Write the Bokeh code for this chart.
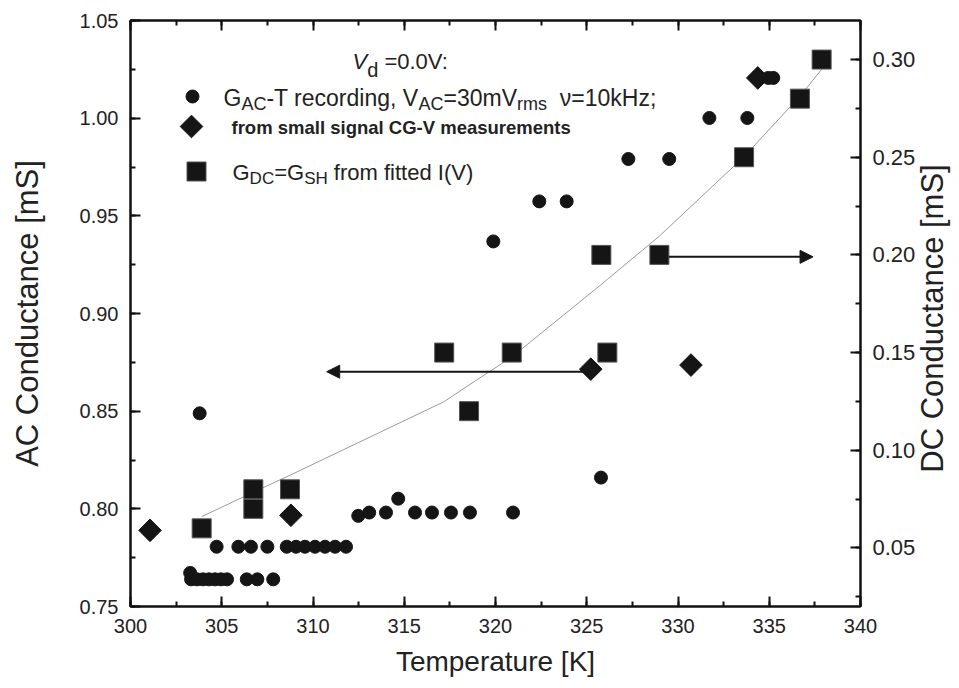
import numpy as np
from bokeh.plotting import figure
from bokeh.models import (Range1d, LinearAxis, Label, Arrow, NormalHead,
                          FixedTicker, PrintfTickFormatter)
from bokeh.embed import file_html
from bokeh.resources import INLINE

# ---------------- data ----------------
# G_AC - T recording (left axis, mS)
ac_T = [303.27, 303.32, 303.64, 303.97, 304.30, 304.63, 304.96, 305.29,
        306.37, 306.95, 307.82,
        304.72, 305.91, 306.60, 307.50, 308.56, 309.07, 309.56, 310.11,
        310.66, 311.21, 311.81,
        312.48, 313.08, 314.00, 314.67, 315.59, 316.52, 317.56, 318.60, 320.96,
        303.79, 319.88, 322.40, 323.90, 325.78, 327.28, 329.52, 331.72,
        333.80, 334.95, 335.22]
ac_G = [0.7672, 0.7639, 0.7639, 0.7639, 0.7639, 0.7639, 0.7639, 0.7639,
        0.7639, 0.7639, 0.7639,
        0.7806, 0.7806, 0.7806, 0.7806, 0.7806, 0.7806, 0.7806, 0.7806,
        0.7806, 0.7806, 0.7806,
        0.7964, 0.7981, 0.7981, 0.8052, 0.7981, 0.7981, 0.7981, 0.7981, 0.7981,
        0.8489, 0.9369, 0.9574, 0.9574, 0.8160, 0.9791, 0.9791, 1.0001,
        1.0001, 1.0206, 1.0206]

# small signal CG-V measurements (left axis, mS)
cv_T = [301.07, 308.79, 325.22, 330.71, 334.37]
cv_G = [0.7890, 0.7967, 0.8715, 0.8736, 1.0206]

# G_DC = G_SH from fitted I(V) (right axis, mS)
dc_T = [303.90, 306.73, 306.73, 308.74, 317.19, 318.55, 320.89, 325.80,
        326.13, 328.98, 333.62, 336.68, 337.87]
dc_G = [0.06, 0.07, 0.08, 0.08, 0.15, 0.12, 0.15, 0.20,
        0.15, 0.20, 0.25, 0.28, 0.30]

# fitted curve (right axis, mS)
fit_T = [303.90, 306.73, 308.74, 317.19, 318.55, 320.89, 325.80, 326.13,
         328.98, 333.62, 336.68, 337.87]
fit_G = [0.0660, 0.0785, 0.0872, 0.1249, 0.1334, 0.1477, 0.1849, 0.1875,
         0.2096, 0.2503, 0.2812, 0.2950]

x_ticks = [300, 305, 310, 315, 320, 325, 330, 335, 340]
ac_ticks = [0.75, 0.80, 0.85, 0.90, 0.95, 1.00, 1.05]
dc_ticks = [0.05, 0.10, 0.15, 0.20, 0.25, 0.30]

# ---------------- figure ----------------
W, H = 959, 688
FL, FR, FT, FB = 130, 860, 20, 606   # frame in pixels
X0, X1 = 300, 340
Y0, Y1 = 0.75, 1.05
D0, D1 = 0.02, 0.32

FONT = "Liberation Sans"
INK = "#151515"

p = figure(width=W, height=H, x_range=Range1d(X0, X1), y_range=Range1d(Y0, Y1),
           output_backend="svg", toolbar_location=None,
           min_border_left=FL, min_border_right=W - FR,
           min_border_top=FT, min_border_bottom=H - FB)
p.extra_y_ranges = {"dc": Range1d(D0, D1)}
p.xgrid.visible = False
p.ygrid.visible = False
p.outline_line_color = "#111111"
p.outline_line_width = 2
p.background_fill_color = "white"
p.border_fill_color = "white"


def style_axis(ax, ticks, fmt, size, label_size=28, show_labels=True):
    step = ticks[1] - ticks[0]
    ax.ticker = FixedTicker(ticks=ticks,
                            minor_ticks=list(np.round(np.arange(ticks[0] - step,
                                                                ticks[-1] + step,
                                                                step / 2), 4)))
    ax.formatter = PrintfTickFormatter(format=fmt)
    ax.major_tick_in = 10
    ax.major_tick_out = 0
    ax.minor_tick_in = 5
    ax.minor_tick_out = 0
    ax.axis_line_width = 2
    ax.axis_line_color = "#111111"
    ax.major_tick_line_width = 2
    ax.minor_tick_line_width = 2
    ax.major_tick_line_color = "#111111"
    ax.minor_tick_line_color = "#111111"
    ax.major_label_text_font = FONT
    ax.major_label_text_font_size = f"{size}px"
    ax.major_label_text_color = "#222222"
    ax.axis_label_text_font = FONT
    ax.axis_label_text_font_style = "normal"
    ax.axis_label_text_font_size = f"{label_size}px"
    ax.axis_label_text_color = "#222222"
    if not show_labels:
        ax.major_label_text_font_size = "0px"
        ax.major_label_text_alpha = 0


xb = p.xaxis[0]
style_axis(xb, x_ticks, "%d", 20, 28)
xb.axis_label = "Temperature [K]"
xb.major_label_standoff = 12
xb.axis_label_standoff = 10

yl = p.yaxis[0]
style_axis(yl, ac_ticks, "%.2f", 20, 31)
yl.axis_label = "AC Conductance [mS]"
yl.major_label_standoff = 12
yl.axis_label_standoff = 32

yr = LinearAxis(y_range_name="dc")
style_axis(yr, dc_ticks, "%.2f", 22)
yr.major_label_standoff = 12
p.add_layout(yr, "right")

xt = LinearAxis()
style_axis(xt, x_ticks, "%d", 20, show_labels=False)
xt.major_label_standoff = 0
p.add_layout(xt, "above")


def T_of(px):
    return X0 + (px - FL) / (FR - FL) * (X1 - X0)


def V_of(py):
    return Y1 - (py - FT) / (FB - FT) * (Y1 - Y0)


# right axis title, reading bottom-to-top like the left one (kept in the right panel)
p.add_layout(Label(x=T_of(932), y=V_of(318), text="DC Conductance [mS]",
                   angle=np.pi / 2, text_align="center", text_baseline="middle",
                   text_font=FONT, text_font_size="31px", text_color="#222222"),
             "right")

# ---------------- marks ----------------
p.line(fit_T, fit_G, y_range_name="dc", line_color="#9a9a9a", line_width=1)

arrow_left = dict(x_start=324.8, x_end=310.75, y=0.8702)
arrow_right = dict(x_start=329.5, x_end=337.4, y=0.199)
p.add_layout(Arrow(end=NormalHead(size=13, fill_color=INK, line_color=INK),
                   x_start=arrow_left["x_start"], y_start=arrow_left["y"],
                   x_end=arrow_left["x_end"], y_end=arrow_left["y"],
                   line_color=INK, line_width=2))
p.add_layout(Arrow(end=NormalHead(size=13, fill_color=INK, line_color=INK),
                   x_start=arrow_right["x_start"], y_start=arrow_right["y"],
                   x_end=arrow_right["x_end"], y_end=arrow_right["y"],
                   line_color=INK, line_width=2, y_range_name="dc"))

p.scatter(ac_T, ac_G, marker="circle", size=13, fill_color=INK, line_color=INK)
p.scatter(dc_T, dc_G, y_range_name="dc", marker="square", size=19,
          fill_color=INK, line_color="#555555", line_width=1)
p.scatter(cv_T, cv_G, marker="square", angle=np.pi / 4, size=16,
          fill_color=INK, line_color=INK)

# ---------------- legend ----------------
p.scatter([T_of(192)], [V_of(96)], marker="circle", size=13, fill_color=INK, line_color=INK)
p.scatter([T_of(191)], [V_of(126)], marker="square", angle=np.pi / 4, size=16,
          fill_color=INK, line_color=INK)
p.scatter([T_of(196)], [V_of(171)], marker="square", size=19, fill_color=INK,
          line_color="#555555", line_width=1)

REG = {' ': 278, ',': 278, '-': 333, '.': 278, ':': 278, ';': 278, '=': 584,
       '(': 333, ')': 333, '[': 278, ']': 278,
       'A': 667, 'C': 722, 'D': 722, 'G': 778, 'H': 722, 'I': 278, 'K': 667,
       'S': 667, 'T': 611, 'V': 667,
       'a': 556, 'c': 500, 'd': 556, 'e': 556, 'f': 278, 'g': 556, 'h': 556,
       'i': 222, 'k': 500, 'l': 222, 'm': 833, 'n': 556, 'o': 556, 'p': 556,
       'r': 333, 's': 500, 't': 278, 'u': 556, 'v': 500, 'z': 500, 'ν': 520}
BOLD = {' ': 278, '-': 333, 'C': 722, 'G': 778, 'V': 667, 'a': 556, 'e': 556,
        'f': 333, 'g': 611, 'i': 278, 'l': 278, 'm': 889, 'n': 611, 'o': 611,
        'r': 389, 's': 556, 't': 333, 'u': 611}


def text_w(s, size, bold=False):
    tab = BOLD if bold else REG
    return sum(tab.get(c, 556) for c in s) * size / 1000.0


def place(segments, x_px, y_px, size, sub_size, sub_drop, bold=False):
    x = x_px
    for txt, kind in segments:
        fs = sub_size if kind == "sub" else size
        dy = sub_drop if kind == "sub" else 0
        style = "bold" if bold else ("italic" if kind == "it" else "normal")
        lead = len(txt) - len(txt.lstrip(" "))
        x += text_w(" " * lead, fs, bold)
        body = txt.lstrip(" ")
        p.add_layout(Label(x=T_of(x), y=V_of(y_px + dy), text=body,
                           text_font=FONT, text_font_size=f"{fs}px",
                           text_font_style=style, text_color="#222222",
                           text_baseline="alphabetic", text_align="left"))
        x += text_w(body, fs, bold)
    return x


place([("V", "it"), ("d", "sub"), (" =0.0V:", "n")], 352, 61, 22, 20, 8)
place([("G", "n"), ("AC", "sub"), ("-T recording, V", "n"), ("AC", "sub"),
       ("=30mV", "n"), ("rms", "sub"), ("  ν=10kHz;", "n")], 223, 97, 23, 18, 6)
place([("from small signal CG-V measurements", "n")], 231, 127, 18.5, 18.5, 0, bold=True)
place([("G", "n"), ("DC", "sub"), ("=G", "n"), ("SH", "sub"), (" from fitted I(V)", "n")],
      232, 172, 22, 17, 6)

open("out.html", "w").write(file_html(p, INLINE))
